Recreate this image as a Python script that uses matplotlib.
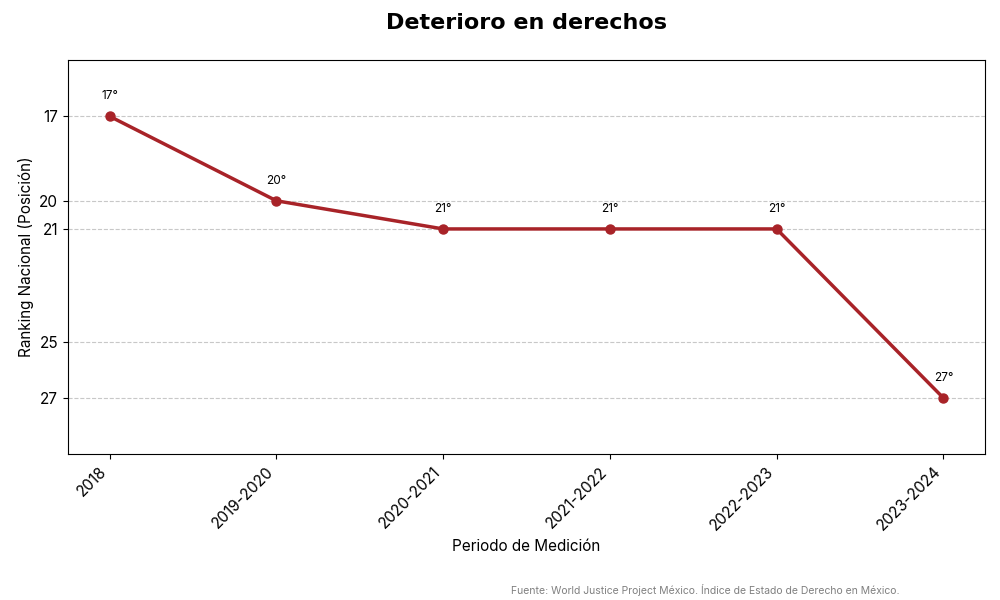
import matplotlib
matplotlib.use("Agg")
import matplotlib.pyplot as plt

periodos = ["2018", "2019-2020", "2020-2021", "2021-2022", "2022-2023", "2023-2024"]
ranking = [17, 20, 21, 21, 21, 27]
ticks_y = [17, 20, 21, 25, 27]

COLOR = "#a82328"

plt.rcParams['font.family'] = ['Inter', 'DejaVu Sans']

fig = plt.figure(figsize=(10, 6), dpi=100)
ax = fig.add_axes([0.068, 0.243, 0.917, 0.657])

x = list(range(len(periodos)))
ax.plot(x, ranking, color=COLOR, linewidth=2.5, marker="o", markersize=6.5)

for xi, yi in zip(x, ranking):
    ax.annotate(f"{yi}°", (xi, yi), xytext=(0, 10), textcoords="offset points",
                ha="center", va="bottom", fontsize=8.5)

ax.set_xlim(-0.25, len(periodos) - 0.75)
ax.set_ylim(29, 15)
ax.set_yticks(ticks_y)
ax.set_xticks(x)
ax.set_xticklabels(periodos, rotation=45, ha="right", fontsize=11)
ax.tick_params(axis="y", labelsize=11)
ax.grid(axis="y", linestyle="--", color="#c8c8c8", linewidth=0.8)
ax.set_axisbelow(True)

ax.set_xlabel("Periodo de Medición", fontsize=11, labelpad=4)
ax.set_ylabel("Ranking Nacional (Posición)", fontsize=11)
fig.text(0.527, 0.962, "Deterioro en derechos", ha="center", va="center",
         fontsize=16, fontweight="bold", family="DejaVu Sans")
fig.text(0.9, 0.017, "Fuente: World Justice Project México. Índice de Estado de Derecho en México.",
         ha="right", va="center", fontsize=7.5, color="#808080")

fig.savefig("out.png", dpi=100)
